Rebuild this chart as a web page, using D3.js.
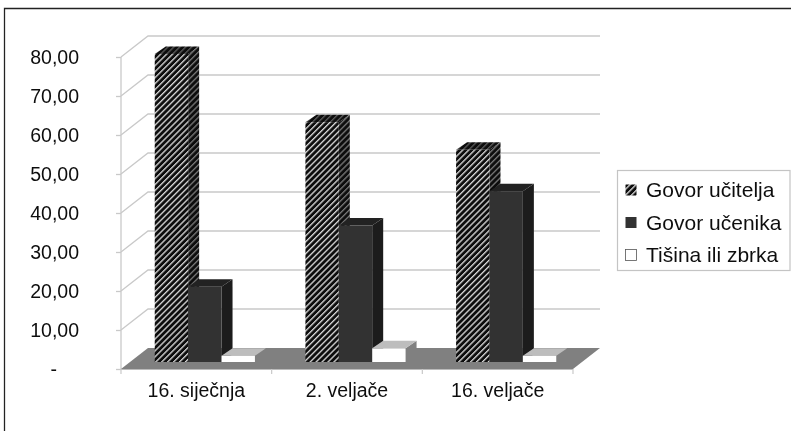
<!DOCTYPE html>
<html><head><meta charset="utf-8">
<script src="https://cdn.jsdelivr.net/npm/d3@7"></script>
<style>html,body{margin:0;padding:0;background:#fff}svg{display:block}text{font-family:"Liberation Sans",Arial,sans-serif;fill:#111}</style>
</head><body><svg id="c" width="791" height="431"></svg>
<script>
const categories = ["16. siječnja", "2. veljače", "16. veljače"];
const seriesNames = ["Govor učitelja", "Govor učenika", "Tišina ili zbrka"];
const govorUcitelja = [79, 61.5, 54.4];
const govorUcenika = [19.3, 35, 43.8];
const tisinaIliZbrka = [1.6, 3.5, 1.6];
const yTicks = [0, 10, 20, 30, 40, 50, 60, 70, 80];
const seriesValues = [govorUcitelja, govorUcenika, tisinaIliZbrka];

const svg = d3.select("#c");
const defs = svg.append("defs");
function hatch(id, stripe, w) {
  const p = defs.append("pattern").attr("id", id).attr("patternUnits", "userSpaceOnUse")
    .attr("width", 4.2).attr("height", 4.2).attr("patternTransform", "rotate(45)");
  p.append("rect").attr("width", 4.2).attr("height", 4.2).attr("fill", "#0c0c0c");
  p.append("rect").attr("width", w).attr("height", 4.2).attr("fill", stripe);
}
hatch("hFront", "#d6d6d6", 1.35);
hatch("hSide", "#777777", 1.35);
hatch("hTop", "#5a5a5a", 1.35);
const blur = defs.append("filter").attr("id", "soft");
blur.append("feGaussianBlur").attr("stdDeviation", 0.45);

const styles = [
  {front: "url(#hFront)", side: "url(#hSide)", top: "url(#hTop)", legend: "url(#hFront)", stroke: "none"},
  {front: "#333333", side: "#1b1b1b", top: "#232323", legend: "#333333", stroke: "none"},
  {front: "#ffffff", side: "#808080", top: "#bdbdbd", legend: "#ffffff", stroke: "#555"}
];

const margin = {left: 121, right: 573, top: 57, bottom: 369};
const wall = {dx: 27, dy: -21};
const bar = {dx0: 8.5, dy0: -7, dx: 11, dy: -7.5};

const y = d3.scaleLinear().domain([0, 80]).range([margin.bottom, margin.top]);
const x = d3.scaleBand().domain(categories).range([margin.left, margin.right]);
const xs = d3.scaleBand().domain(seriesNames).range([0, x.bandwidth()]).paddingInner(0).paddingOuter(0.756);

const root = svg.append("g").attr("filter", "url(#soft)");
// frame
root.append("path").attr("d", "M4.5,431V8.5H791").attr("fill", "none").attr("stroke", "#222").attr("stroke-width", 1.3);

// walls and gridlines
const line = d3.line();
const grid = root.append("g").attr("fill", "none").attr("stroke", "#c9c9c9").attr("stroke-width", 1.3);
yTicks.forEach(t => {
  if (t > 0) grid.append("path").attr("d", line([
    [margin.left, y(t)], [margin.left + wall.dx, y(t) + wall.dy], [margin.right + wall.dx, y(t) + wall.dy]]));
});
grid.append("path").attr("d", line([[margin.left, y(80)], [margin.left, y(0)]]));

// floor
root.append("path").attr("fill", "#808080").attr("d", line([
  [margin.left, y(0)], [margin.left + wall.dx, y(0) + wall.dy],
  [margin.right + wall.dx, y(0) + wall.dy], [margin.right, y(0)]]) + "Z");
root.append("path").attr("fill", "none").attr("stroke", "#bbb").attr("stroke-width", 1)
  .attr("d", line([[margin.left, y(0) + .5], [margin.right, y(0) + .5]]));

// bars
categories.forEach((c, ci) => {
  seriesNames.forEach((s, si) => {
    const v = seriesValues[si][ci], st = styles[si];
    const x0 = x(c) + xs(s) + bar.dx0, x1 = x0 + xs.bandwidth();
    const yT = y(v) + bar.dy0, yB = y(0) + bar.dy0;
    const g = root.append("g");
    g.append("path").attr("fill", st.side).attr("d", line([
      [x1, yT], [x1 + bar.dx, yT + bar.dy], [x1 + bar.dx, yB + bar.dy], [x1, yB]]) + "Z");
    g.append("path").attr("fill", st.top).attr("d", line([
      [x0, yT], [x0 + bar.dx, yT + bar.dy], [x1 + bar.dx, yT + bar.dy], [x1, yT]]) + "Z");
    g.append("rect").attr("x", x0).attr("y", yT).attr("width", x1 - x0).attr("height", yB - yT).attr("fill", st.front);
  });
});

// axes
const axisY = d3.axisLeft(y).tickValues(yTicks).tickSize(5).tickPadding(37)
  .tickFormat(d => d === 0 ? "-" : d3.format(".2f")(d).replace(".", ","));
const gy = root.append("g").attr("transform", `translate(${margin.left},0)`).call(axisY);
gy.select(".domain").remove();
gy.selectAll(".tick line").attr("stroke", "#c9c9c9").attr("stroke-width", 1.3);
gy.selectAll(".tick text").attr("font-size", 19.5).attr("fill", "#111").attr("dy", "0.34em")
  .attr("x", d => d === 0 ? -64 : -42);

const axisX = d3.axisBottom(x).tickSize(0).tickPadding(14);
const gx = root.append("g").attr("transform", `translate(0,${margin.bottom})`).call(axisX);
gx.select(".domain").remove();
gx.selectAll(".tick text").attr("font-size", 19.5).attr("fill", "#111");
const edges = categories.map(c => x(c)).concat([margin.right]);
root.append("g").selectAll("line").data(edges).join("line")
  .attr("x1", d => d).attr("x2", d => d).attr("y1", margin.bottom).attr("y2", margin.bottom + 5)
  .attr("stroke", "#c9c9c9").attr("stroke-width", 1.2);

// legend
const lg = root.append("g");
lg.append("rect").attr("x", 617.5).attr("y", 170.5).attr("width", 172.5).attr("height", 100)
  .attr("fill", "#fff").attr("stroke", "#c4c4c4").attr("stroke-width", 1.2);
const ly = d3.scalePoint().domain(seriesNames).range([190, 255]);
seriesNames.forEach((s, i) => {
  lg.append("rect").attr("x", 625.5).attr("y", ly(s) - 5.5).attr("width", 11).attr("height", 11)
    .attr("fill", styles[i].legend).attr("stroke", styles[i].stroke).attr("stroke-width", .8);
  lg.append("text").attr("x", 646).attr("y", ly(s)).attr("dy", "0.35em").attr("font-size", 21).text(s);
});
</script></body></html>
